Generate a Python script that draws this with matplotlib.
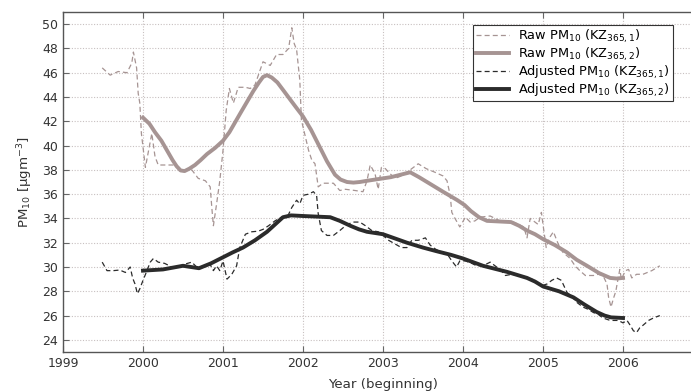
import matplotlib

matplotlib.use("Agg")

import matplotlib.pyplot as plt

plt.rcParams["font.family"] = ["DejaVu Sans"]
plt.rcParams["mathtext.default"] = "regular"

# Raw PM10, KZ(365,1) - thin dashed
raw_kz1_year = [1999.49, 1999.59, 1999.69, 1999.80, 1999.86, 1999.88, 1999.92, 1999.94,
                1999.96, 1999.98, 2000.03, 2000.11, 2000.15, 2000.19, 2000.27, 2000.40,
                2000.48, 2000.61, 2000.69, 2000.78, 2000.84, 2000.86, 2000.88, 2000.92,
                2000.96, 2001.00, 2001.04, 2001.08, 2001.13, 2001.19, 2001.28, 2001.34,
                2001.40, 2001.50, 2001.59, 2001.67, 2001.75, 2001.82, 2001.86, 2001.89,
                2001.92, 2001.96, 2001.98, 2002.07, 2002.11, 2002.15, 2002.19, 2002.25,
                2002.38, 2002.46, 2002.53, 2002.65, 2002.75, 2002.80, 2002.84, 2002.90,
                2002.94, 2002.98, 2003.03, 2003.07, 2003.15, 2003.23, 2003.34, 2003.44,
                2003.54, 2003.65, 2003.75, 2003.80, 2003.84, 2003.86, 2003.90, 2003.96,
                2004.03, 2004.09, 2004.15, 2004.21, 2004.34, 2004.46, 2004.63, 2004.76,
                2004.80, 2004.84, 2004.88, 2004.94, 2004.98, 2005.00, 2005.04, 2005.08,
                2005.13, 2005.19, 2005.25, 2005.34, 2005.40, 2005.46, 2005.53, 2005.63,
                2005.69, 2005.75, 2005.80, 2005.82, 2005.85, 2005.88, 2005.91, 2005.94,
                2005.96, 2005.98, 2006.03, 2006.07, 2006.11, 2006.17, 2006.25, 2006.36,
                2006.46]
raw_kz1 = [46.4, 45.8, 46.1, 46.0, 46.8, 47.7, 46.4, 44.3,
           43.5, 41.0, 38.2, 41.0, 39.1, 38.4, 38.4, 38.4,
           38.0, 38.0, 37.3, 37.1, 36.6, 34.9, 33.4, 35.2,
           37.1, 39.6, 42.9, 44.7, 43.5, 44.8, 44.8, 44.7,
           45.0, 46.9, 46.6, 47.5, 47.5, 48.0, 49.7, 48.4,
           47.9, 45.4, 42.1, 39.6, 38.8, 38.5, 36.6, 36.9,
           36.9, 36.3, 36.4, 36.3, 36.2, 37.1, 38.4, 37.7,
           36.4, 38.2, 38.1, 37.8, 37.3, 37.5, 38.0, 38.5,
           38.1, 37.8, 37.5, 37.1, 35.9, 34.5, 34.0, 33.3,
           34.1, 33.7, 33.8, 34.1, 34.2, 33.8, 33.7, 33.3,
           32.4, 34.0, 33.8, 33.5, 34.5, 33.5, 31.6, 32.4,
           32.9, 31.9, 31.2, 30.7, 30.1, 29.7, 29.3, 29.3,
           29.4, 29.3, 28.6, 27.5, 26.7, 27.4, 28.0, 29.1,
           29.8, 29.0, 29.7, 29.8, 29.1, 29.4, 29.4, 29.7,
           30.1]

# Raw PM10, KZ(365,2) - thick solid
raw_kz2_year = [2000.00, 2000.08, 2000.15, 2000.23, 2000.30, 2000.37, 2000.42, 2000.47,
                2000.52, 2000.58, 2000.65, 2000.72, 2000.80, 2000.90, 2001.00, 2001.08,
                2001.15, 2001.22, 2001.30, 2001.38, 2001.45, 2001.50, 2001.55, 2001.61,
                2001.68, 2001.76, 2001.85, 2001.93, 2002.00, 2002.10, 2002.20, 2002.30,
                2002.40, 2002.47, 2002.55, 2002.63, 2002.71, 2002.80, 2002.90, 2003.00,
                2003.10, 2003.22, 2003.34, 2003.45, 2003.60, 2003.75, 2003.93, 2004.02,
                2004.10, 2004.20, 2004.30, 2004.45, 2004.60, 2004.70, 2004.80, 2004.90,
                2005.00, 2005.15, 2005.30, 2005.42, 2005.55, 2005.70, 2005.84, 2005.92,
                2006.00]
raw_kz2 = [42.3, 41.8, 41.1, 40.4, 39.6, 38.8, 38.3, 37.95,
           37.9, 38.1, 38.4, 38.8, 39.3, 39.8, 40.4, 41.1,
           41.9, 42.7, 43.6, 44.5, 45.2, 45.65, 45.8, 45.6,
           45.2, 44.5, 43.7, 43.0, 42.4, 41.3, 40.0, 38.7,
           37.6, 37.2, 37.0, 36.95, 37.0, 37.1, 37.2, 37.3,
           37.4, 37.6, 37.8, 37.4, 36.8, 36.2, 35.5, 35.1,
           34.6, 34.1, 33.8, 33.75, 33.7, 33.4, 33.0, 32.7,
           32.3, 31.8, 31.2, 30.6, 30.1, 29.5, 29.1, 29.05,
           29.1]

# Adjusted PM10, KZ(365,1) - thin dashed
adj_kz1_year = [1999.49, 1999.55, 1999.63, 1999.71, 1999.78, 1999.84, 1999.87, 1999.90,
                1999.93, 1999.96, 2000.00, 2000.05, 2000.09, 2000.13, 2000.19, 2000.27,
                2000.36, 2000.44, 2000.53, 2000.61, 2000.67, 2000.75, 2000.84, 2000.88,
                2000.92, 2000.96, 2001.00, 2001.05, 2001.11, 2001.17, 2001.21, 2001.28,
                2001.36, 2001.44, 2001.50, 2001.57, 2001.65, 2001.73, 2001.81, 2001.86,
                2001.92, 2001.96, 2002.00, 2002.07, 2002.13, 2002.17, 2002.19, 2002.23,
                2002.30, 2002.38, 2002.46, 2002.55, 2002.63, 2002.71, 2002.78, 2002.86,
                2002.94, 2003.00, 2003.07, 2003.15, 2003.23, 2003.30, 2003.36, 2003.44,
                2003.53, 2003.59, 2003.65, 2003.73, 2003.82, 2003.86, 2003.92, 2003.96,
                2004.03, 2004.11, 2004.17, 2004.25, 2004.34, 2004.40, 2004.48, 2004.53,
                2004.61, 2004.71, 2004.80, 2004.86, 2004.92, 2004.98, 2005.05, 2005.11,
                2005.17, 2005.23, 2005.30, 2005.36, 2005.42, 2005.50, 2005.57, 2005.63,
                2005.69, 2005.75, 2005.84, 2005.94, 2006.00, 2006.05, 2006.09, 2006.13,
                2006.17, 2006.21, 2006.25, 2006.32, 2006.38, 2006.46]
adj_kz1 = [30.4, 29.7, 29.7, 29.75, 29.55, 30.0, 29.1, 28.6,
           27.8, 28.2, 28.9, 29.7, 30.4, 30.7, 30.4, 30.3,
           30.0, 30.0, 30.25, 30.4, 30.0, 30.0, 30.2, 29.7,
           30.1, 29.7, 30.5, 29.0, 29.4, 30.1, 31.6, 32.7,
           32.9, 32.95, 33.1, 33.4, 33.8, 34.1, 34.2, 34.9,
           35.5, 35.2, 35.9, 36.0, 36.2, 35.9, 34.4, 33.0,
           32.6, 32.6, 33.0, 33.5, 33.7, 33.7, 33.4, 33.0,
           32.9, 32.6, 32.2, 31.9, 31.6, 31.6, 32.2, 32.2,
           32.4, 31.8, 31.5, 31.2, 30.9, 30.5, 30.0, 30.5,
           30.5, 30.3, 30.1, 30.1, 30.4, 30.1, 29.7, 29.3,
           29.4, 29.3, 29.1, 29.0, 28.7, 28.45, 28.6, 28.9,
           29.1, 28.9, 27.9, 27.6, 27.1, 26.7, 26.5, 26.25,
           26.1, 25.8, 25.6, 25.6, 25.4, 25.6, 25.2, 24.75,
           24.6, 25.0, 25.2, 25.6, 25.8, 26.0]

# Adjusted PM10, KZ(365,2) - thick solid
adj_kz2_year = [2000.00, 2000.25, 2000.50, 2000.60, 2000.70, 2000.85, 2001.00, 2001.12,
                2001.25, 2001.40, 2001.55, 2001.65, 2001.75, 2001.85, 2002.00, 2002.17,
                2002.34, 2002.46, 2002.59, 2002.70, 2002.80, 2003.00, 2003.15, 2003.30,
                2003.50, 2003.67, 2003.85, 2004.00, 2004.25, 2004.40, 2004.55, 2004.80,
                2004.90, 2005.00, 2005.20, 2005.38, 2005.52, 2005.67, 2005.77, 2005.85,
                2006.00]
adj_kz2 = [29.7, 29.8, 30.1, 30.0, 29.9, 30.3, 30.8, 31.2,
           31.6, 32.2, 32.9, 33.5, 34.1, 34.25, 34.2, 34.15,
           34.1, 33.8, 33.4, 33.1, 32.9, 32.7, 32.35, 32.0,
           31.6, 31.3, 31.0, 30.7, 30.1, 29.85, 29.6, 29.1,
           28.8, 28.4, 28.0, 27.5, 26.9, 26.3, 26.0, 25.85,
           25.8]

year_ticks = list(range(1999, 2007))
pm_ticks = list(range(24, 52, 2))

raw_color = "#a69493"
adj_color = "#2b2b2b"

fig = plt.figure(figsize=(6.91, 3.92), dpi=100)
ax = fig.add_axes([63 / 691, 40 / 392, 640 / 691, 340 / 392])

ax.plot(raw_kz1_year, raw_kz1, color=raw_color, lw=0.9, ls=(0, (4, 2.5)),
        label=r"Raw PM$_{10}$ (KZ$_{365,1}$)")
ax.plot(raw_kz2_year, raw_kz2, color=raw_color, lw=2.8,
        label=r"Raw PM$_{10}$ (KZ$_{365,2}$)")
ax.plot(adj_kz1_year, adj_kz1, color=adj_color, lw=0.9, ls=(0, (4, 2.5)),
        label=r"Adjusted PM$_{10}$ (KZ$_{365,1}$)")
ax.plot(adj_kz2_year, adj_kz2, color=adj_color, lw=2.8,
        label=r"Adjusted PM$_{10}$ (KZ$_{365,2}$)")

ax.set_xlim(1999, 2007)
ax.set_ylim(23, 51)
ax.set_xticks(year_ticks)
ax.set_yticks(pm_ticks)
ax.grid(True, color="#c8c0c0", ls=(0, (1, 1.5)), lw=0.8)
ax.tick_params(direction="in", top=True, right=False, length=4,
               labelsize=9, color="#666666", labelcolor="#333333")
for side in ["left", "bottom", "top"]:
    ax.spines[side].set_color("#555555")
    ax.spines[side].set_linewidth(1.0)
ax.spines["right"].set_visible(False)

ax.set_xlabel("Year (beginning)", fontsize=9.6, color="#333333", labelpad=6)
ax.set_ylabel(r"PM$_{10}$ [µgm$^{-3}$]", fontsize=9.6, color="#333333", labelpad=5)

leg = ax.legend(loc="upper left", bbox_to_anchor=((473 - 63) / 640, (352 - 25) / 340),
                fontsize=9.3, frameon=True, fancybox=False, framealpha=1,
                edgecolor="#333333", handlelength=2.6, borderpad=0.2,
                labelspacing=0.05, handletextpad=0.7, borderaxespad=0)
leg.get_frame().set_linewidth(0.8)

fig.savefig("out.png", dpi=100)
